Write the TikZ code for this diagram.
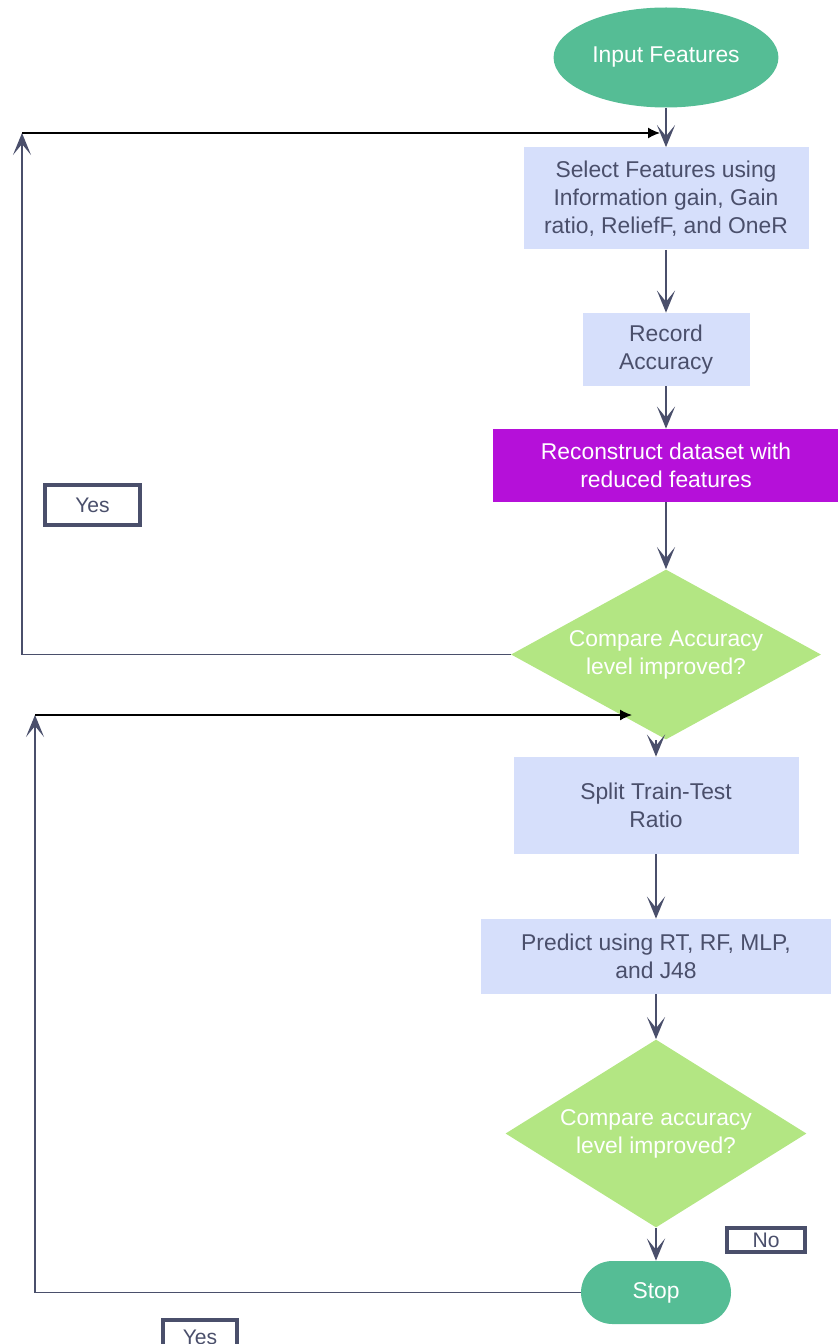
\documentclass[tikz,border=0pt]{standalone}
\usepackage{fontspec}
\setmainfont{Liberation Sans}
\usetikzlibrary{shapes.geometric,arrows.meta}
\definecolor{termgreen}{HTML}{55BD95}
\definecolor{procblue}{HTML}{D6DFFB}
\definecolor{hotpurple}{HTML}{B510D9}
\definecolor{decgreen}{HTML}{B3E683}
\definecolor{inkgray}{HTML}{4A4F6B}
\begin{document}
\begin{tikzpicture}[node distance=3.02cm,
  term/.style={fill=termgreen, text=white, font=\fontsize{13}{16}\selectfont},
  proc/.style={rectangle, fill=procblue, text=inkgray, align=center, font=\fontsize{13}{16}\selectfont},
  hot/.style={rectangle, fill=hotpurple, text=white, align=center, font=\fontsize{13}{16}\selectfont},
  decide/.style={diamond, fill=decgreen, text=white, align=center, inner sep=0pt, font=\fontsize{13}{16}\selectfont},
  tag/.style={rectangle, draw=inkgray, line width=2.2pt, text=inkgray, inner sep=0pt, font=\fontsize{12}{14}\selectfont},
  flow/.style={-{Stealth[length=4.4mm,width=3.6mm,inset=2.2mm]}, draw=inkgray, line width=1.6pt},
  back/.style={draw=inkgray, line width=1pt},
  thinback/.style={-{Latex[length=2.4mm,width=2.2mm]}, draw=black, line width=0.8pt}]
  \useasboundingbox (0,0) rectangle (16.74,-26.88);
  \node(in)[term, ellipse, minimum width=4.28cm, minimum height=2cm] at (13.32,-1.15) {Input Features};
  \node(sel)[proc, node distance=2.82cm, below of=in, minimum width=5.7cm, minimum height=2.04cm] {Select Features using\\Information gain, Gain\\ratio, ReliefF, and OneR};
  \node(rec)[proc, below of=sel, minimum width=3.34cm, minimum height=1.46cm] {Record\\Accuracy};
  \node(recon)[hot, node distance=2.32cm, below of=rec, minimum width=6.94cm, minimum height=1.46cm] {Reconstruct dataset with\\reduced features};
  \node(cmp1)[decide, aspect=1.8, node distance=3.78cm, below of=recon, minimum width=6.2cm, minimum height=3.4cm] {Compare Accuracy\\level improved?};
  \node(split)[proc, below of=cmp1, xshift=-0.2cm, minimum width=5.7cm, minimum height=1.94cm] {Split Train-Test\\Ratio};
  \node(pred)[proc, below of=split, minimum width=7cm, minimum height=1.5cm] {Predict using RT, RF, MLP,\\and J48};
  \node(cmp2)[decide, aspect=1.6, node distance=3.54cm, below of=pred, minimum width=6.02cm, minimum height=3.76cm] {Compare accuracy\\level improved?};
  \node(stop)[term, rectangle, rounded corners=0.63cm, node distance=3.18cm, below of=cmp2, minimum width=3cm, minimum height=1.26cm] {Stop};
  \node(yes1)[tag, minimum width=1.9cm, minimum height=0.8cm] at (1.85,-10.1) {Yes};
  \node(no)[tag, minimum width=1.56cm, minimum height=0.48cm] at (15.32,-24.8) {No};
  \node(yes2)[tag, minimum width=1.48cm, minimum height=0.7cm] at (4,-26.75) {Yes};
  % loop corners
  \coordinate(a2) at (0.44,-2.66);
  \coordinate(a3) at (13.2,-2.66);
  \coordinate(b2) at (0.7,-14.3);
  \coordinate(b3) at (12.64,-14.3);
  \draw[flow] (in) -- (sel);
  \draw[flow] (sel) -- (rec);
  \draw[flow] (rec) -- (recon);
  \draw[flow] (recon) -- (cmp1);
  \draw[flow] (split.north |- cmp1.south) -- (split);
  \draw[flow] (split) -- (pred);
  \draw[flow] (pred) -- (cmp2);
  \draw[flow] (cmp2) -- (stop);
  \draw[back] (cmp1.west) -- (cmp1.west -| a2);
  \draw[flow, line width=1pt] (cmp1.west -| a2) -- (a2);
  \draw[thinback] (a2) -- (a3);
  \draw[back] (stop.west) -- (stop.west -| b2);
  \draw[flow, line width=1pt] (stop.west -| b2) -- (b2);
  \draw[thinback] (b2) -- (b3);
\end{tikzpicture}
\end{document}
